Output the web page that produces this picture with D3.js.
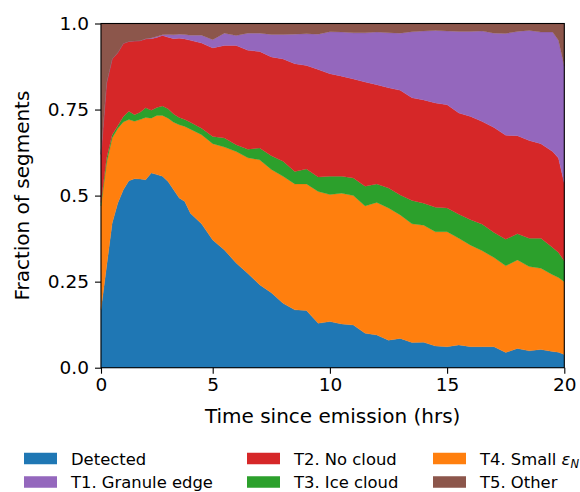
<!DOCTYPE html>
<html>
<head>
<meta charset="utf-8">
<script src="https://cdn.jsdelivr.net/npm/d3@7"></script>
<style>
  html, body { margin: 0; padding: 0; background: #fff; }
  svg { display: block; font-family: "DejaVu Sans", sans-serif; }
</style>
</head>
<body>
<svg id="chart" width="580" height="492"></svg>
<script>
// Time since emission (hrs)
const hours = [0, 0.25, 0.5, 0.75, 1, 1.25, 1.5, 1.75, 2, 2.25, 2.5, 2.75, 3, 3.25, 3.5, 3.75, 4,
  4.5, 5, 5.5, 6, 6.5, 7, 7.5, 8, 8.5, 9, 9.5, 10, 10.5, 11, 11.5, 12, 12.5, 13, 13.5, 14,
  14.5, 15, 15.5, 16, 16.5, 17, 17.5, 18, 18.5, 19, 19.5, 19.75, 20];

// Fraction of segments in each class
const detected = [0.168, 0.294, 0.42, 0.478, 0.517, 0.543, 0.549, 0.548, 0.546, 0.566, 0.561, 0.556, 0.541, 0.517, 0.493, 0.483, 0.449,
  0.418, 0.371, 0.342, 0.304, 0.274, 0.241, 0.218, 0.187, 0.168, 0.166, 0.129, 0.134, 0.127, 0.124, 0.1, 0.095, 0.08, 0.085, 0.073, 0.074,
  0.063, 0.061, 0.066, 0.061, 0.061, 0.061, 0.044, 0.056, 0.049, 0.053, 0.047, 0.045, 0.038];
const smallEps = [0.302, 0.301, 0.247, 0.217, 0.197, 0.178, 0.167, 0.173, 0.181, 0.159, 0.172, 0.177, 0.184, 0.196, 0.213, 0.218, 0.244,
  0.259, 0.28, 0.299, 0.324, 0.336, 0.363, 0.358, 0.369, 0.366, 0.368, 0.383, 0.369, 0.38, 0.376, 0.37, 0.385, 0.384, 0.359, 0.345, 0.34,
  0.332, 0.334, 0.31, 0.295, 0.279, 0.259, 0.252, 0.257, 0.245, 0.236, 0.223, 0.217, 0.212];
const iceCloud = [0.01, 0.014, 0.01, 0.008, 0.016, 0.024, 0.019, 0.021, 0.028, 0.023, 0.023, 0.027, 0.027, 0.024, 0.021, 0.02, 0.02,
  0.019, 0.021, 0.026, 0.02, 0.025, 0.034, 0.04, 0.044, 0.036, 0.043, 0.042, 0.053, 0.049, 0.051, 0.057, 0.054, 0.058, 0.058, 0.068, 0.064,
  0.071, 0.069, 0.07, 0.074, 0.077, 0.073, 0.077, 0.076, 0.082, 0.087, 0.079, 0.073, 0.06];
const noCloud = [0.14, 0.218, 0.22, 0.212, 0.212, 0.203, 0.214, 0.208, 0.2, 0.208, 0.203, 0.205, 0.208, 0.219, 0.23, 0.234, 0.238,
  0.247, 0.257, 0.269, 0.288, 0.287, 0.281, 0.287, 0.297, 0.313, 0.301, 0.312, 0.298, 0.291, 0.288, 0.303, 0.288, 0.291, 0.304, 0.298, 0.3,
  0.303, 0.3, 0.294, 0.3, 0.298, 0.305, 0.302, 0.285, 0.284, 0.275, 0.279, 0.274, 0.225];
const granuleEdge = [0, 0, 0, 0, 0, 0, 0, 0, 0.001, 0.002, 0.003, 0.002, 0.008, 0.011, 0.012, 0.013, 0.015,
  0.023, 0.024, 0.036, 0.029, 0.05, 0.053, 0.065, 0.071, 0.086, 0.092, 0.103, 0.122, 0.128, 0.134, 0.143, 0.153, 0.16, 0.166, 0.192, 0.2,
  0.211, 0.214, 0.237, 0.247, 0.263, 0.274, 0.296, 0.303, 0.32, 0.324, 0.347, 0.342, 0.341];
const other = [0.38, 0.173, 0.103, 0.085, 0.058, 0.052, 0.051, 0.05, 0.044, 0.042, 0.038, 0.033, 0.032, 0.033, 0.031, 0.032, 0.034,
  0.034, 0.047, 0.028, 0.035, 0.028, 0.028, 0.032, 0.032, 0.031, 0.03, 0.031, 0.024, 0.025, 0.027, 0.027, 0.025, 0.027, 0.028, 0.024, 0.022,
  0.02, 0.022, 0.023, 0.023, 0.022, 0.028, 0.029, 0.023, 0.02, 0.025, 0.025, 0.049, 0.124];

// Series in stacking order (bottom to top)
const seriesKeys = ["detected", "smallEps", "iceCloud", "noCloud", "granuleEdge", "other"];
const seriesColors = ["#1f77b4", "#ff7f0e", "#2ca02c", "#d62728", "#9467bd", "#8c564b"];

const xTicks = [0, 5, 10, 15, 20];
const yTicks = [0, 0.25, 0.5, 0.75, 1.0];
const yTickLabels = ["0.0", "0.25", "0.5", "0.75", "1.0"];

const rows = hours.map((t, i) => ({
  t,
  detected: detected[i], smallEps: smallEps[i], iceCloud: iceCloud[i],
  noCloud: noCloud[i], granuleEdge: granuleEdge[i], other: other[i]
}));

const svg = d3.select("#chart");
const plotLeft = 101, plotRight = 564.3, plotTop = 23.5, plotBottom = 367.7;

const x = d3.scaleLinear().domain([0, 5, 20]).range([plotLeft, 212.7, plotRight]);
const y = d3.scaleLinear().domain([0, 1]).range([plotBottom, plotTop]);

const stacked = d3.stack().keys(seriesKeys)(rows);
const area = d3.area()
  .x(d => x(d.data.t))
  .y0(d => y(d[0]))
  .y1(d => y(Math.min(d[1], 1)));

svg.append("g")
  .selectAll("path")
  .data(stacked)
  .join("path")
  .attr("d", area)
  .attr("fill", (d, i) => seriesColors[i])
  .attr("stroke", (d, i) => seriesColors[i])
  .attr("stroke-width", 0.3);

// Axes
const tickFont = 18.5;
const xAxis = svg.append("g")
  .attr("transform", `translate(0,${plotBottom})`)
  .call(d3.axisBottom(x).tickValues(xTicks).tickFormat(d3.format("d")).tickSize(6).tickPadding(4));
const yAxis = svg.append("g")
  .attr("transform", `translate(${plotLeft},0)`)
  .call(d3.axisLeft(y).tickValues(yTicks).tickFormat((d, i) => yTickLabels[i]).tickSize(6).tickPadding(6));

[xAxis, yAxis].forEach(g => {
  g.select(".domain").remove();
  g.selectAll(".tick line").attr("stroke", "#000").attr("stroke-width", 1.1);
  g.selectAll(".tick text")
    .attr("fill", "#000")
    .style("font-family", "'DejaVu Sans', sans-serif")
    .style("font-size", tickFont + "px");
});

// Frame
svg.append("rect")
  .attr("x", plotLeft).attr("y", plotTop)
  .attr("width", plotRight - plotLeft).attr("height", plotBottom - plotTop)
  .attr("fill", "none").attr("stroke", "#000").attr("stroke-width", 1.1);

// Axis titles
svg.append("text")
  .attr("x", (plotLeft + plotRight) / 2).attr("y", 423)
  .attr("text-anchor", "middle")
  .style("font-size", "20px")
  .text("Time since emission (hrs)");

svg.append("text")
  .attr("transform", `translate(29,${(plotTop + plotBottom) / 2}) rotate(-90)`)
  .attr("text-anchor", "middle")
  .style("font-size", "20px")
  .text("Fraction of segments");

// Legend: three columns, two rows
const legendItems = [
  { key: "detected", label: "Detected", col: 0, row: 0 },
  { key: "granuleEdge", label: "T1. Granule edge", col: 0, row: 1 },
  { key: "noCloud", label: "T2. No cloud", col: 1, row: 0 },
  { key: "iceCloud", label: "T3. Ice cloud", col: 1, row: 1 },
  { key: "smallEps", label: "T4. Small ", math: true, col: 2, row: 0 },
  { key: "other", label: "T5. Other", col: 2, row: 1 }
];
const colX = [24, 247, 433];
const rowY = [458.5, 482];
const legendFont = 16.4;

const lg = svg.append("g");
legendItems.forEach(item => {
  const cx = colX[item.col], cy = rowY[item.row];
  lg.append("rect")
    .attr("x", cx).attr("y", cy - 5.75)
    .attr("width", 33).attr("height", 11.5)
    .attr("fill", seriesColors[seriesKeys.indexOf(item.key)]);
  const t = lg.append("text")
    .attr("x", cx + 47).attr("y", cy + 6)
    .style("font-size", legendFont + "px")
    .text(item.label);
  if (item.math) {
    t.append("tspan").style("font-style", "italic").text("ε");
    t.append("tspan").style("font-style", "italic").style("font-size", "11.5px").attr("dy", 3).text("N");
  }
});
</script>
</body>
</html>
